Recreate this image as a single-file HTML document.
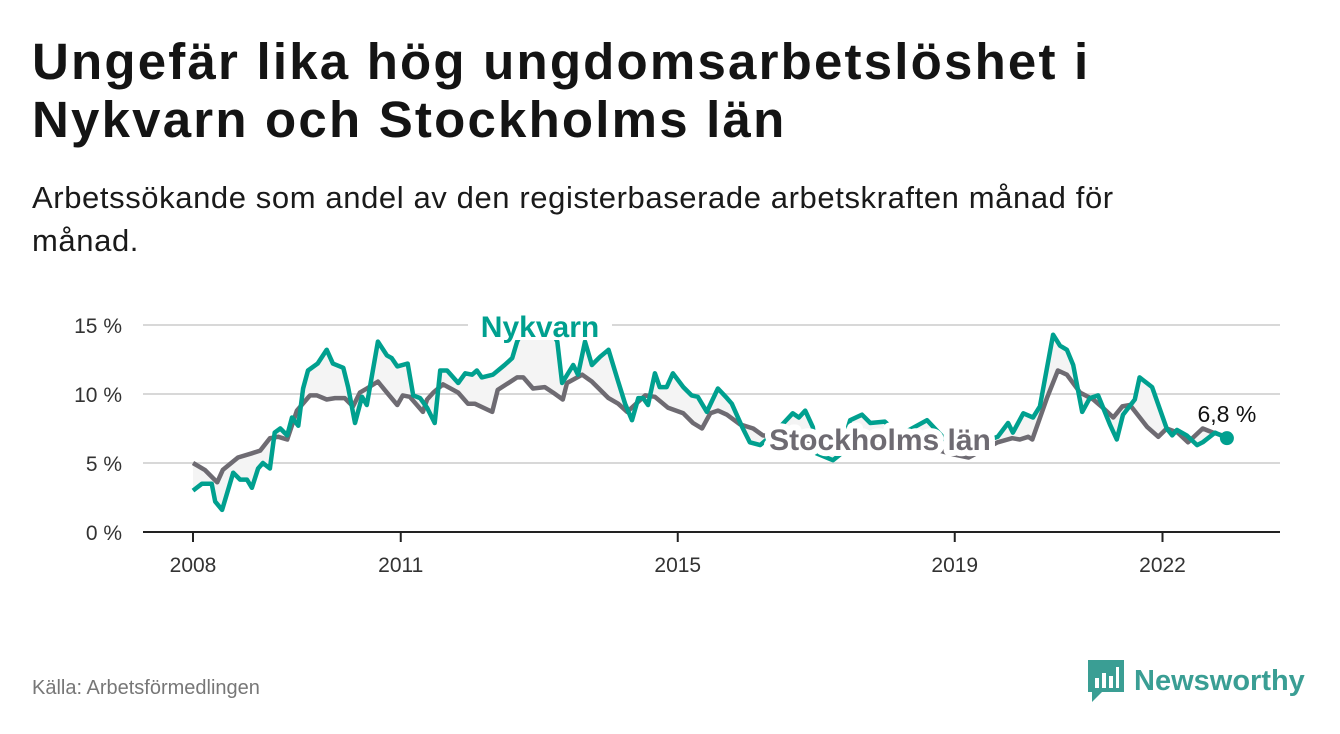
<!DOCTYPE html>
<html><head><meta charset="utf-8">
<style>
body{margin:0;width:1340px;height:734px;background:#fff;font-family:"Liberation Sans",sans-serif;overflow:hidden;position:relative}
h1{position:absolute;left:32px;top:33px;margin:0;font-size:51px;line-height:58px;font-weight:bold;color:#141414;letter-spacing:2.2px}
.sub{position:absolute;left:32px;top:176px;margin:0;font-size:31px;line-height:43px;color:#1a1a1a;width:1150px;letter-spacing:0.6px}
.src{position:absolute;left:32px;top:677px;font-size:20px;color:#777}
.logo{position:absolute;left:1088px;top:660px;display:flex;align-items:center}
.logo span{font-size:29px;font-weight:bold;color:#3a9e94;margin-left:10px}
</style></head><body>
<h1>Ungefär lika hög ungdomsarbetslöshet i<br>Nykvarn och Stockholms län</h1>
<p class="sub">Arbetssökande som andel av den registerbaserade arbetskraften månad för månad.</p>
<svg id="chart" width="1340" height="734" style="position:absolute;left:0;top:0"></svg>
<div class="src">Källa: Arbetsförmedlingen</div>
<div class="logo">
<svg width="36" height="42" viewBox="0 0 36 42"><path d="M0 0H36V32H14L4 42V32H0Z" fill="#3a9e94"/><rect x="7" y="18" width="4" height="10" fill="#fff"/><rect x="14" y="13" width="4" height="15" fill="#fff"/><rect x="21" y="16" width="4" height="12" fill="#fff"/><rect x="28" y="7" width="3" height="21" fill="#fff"/></svg>
<span>Newsworthy</span></div>
<script>
const yTicks=[0,5,10,15];
const yTickLabels=["0 %","5 %","10 %","15 %"];
const xTicks=[2008,2011,2015,2019,2022];
const nykDates=[2008.0,2008.13,2008.27,2008.32,2008.42,2008.58,2008.68,2008.78,2008.85,2008.94,2009.01,2009.11,2009.18,2009.26,2009.36,2009.43,2009.52,2009.59,2009.66,2009.8,2009.93,2010.02,2010.17,2010.24,2010.34,2010.44,2010.51,2010.67,2010.8,2010.87,2010.95,2011.1,2011.18,2011.28,2011.38,2011.49,2011.57,2011.67,2011.83,2011.93,2012.03,2012.1,2012.17,2012.33,2012.5,2012.61,2012.68,2012.85,2013.1,2013.26,2013.33,2013.49,2013.56,2013.66,2013.76,2013.88,2014.0,2014.14,2014.24,2014.34,2014.43,2014.5,2014.57,2014.67,2014.74,2014.84,2014.93,2015.08,2015.2,2015.29,2015.42,2015.58,2015.71,2015.78,2015.93,2016.04,2016.19,2016.4,2016.66,2016.75,2016.84,2016.95,2017.0,2017.24,2017.34,2017.49,2017.66,2017.78,2017.99,2018.2,2018.6,2018.9,2019.2,2019.4,2019.62,2019.77,2019.84,2019.99,2020.13,2020.23,2020.42,2020.52,2020.62,2020.71,2020.84,2020.95,2021.07,2021.24,2021.34,2021.43,2021.6,2021.67,2021.85,2022.06,2022.14,2022.21,2022.35,2022.5,2022.58,2022.76,2022.93];
const nykVals=[3.0,3.5,3.5,2.2,1.6,4.3,3.8,3.8,3.2,4.6,5.0,4.6,7.2,7.5,7.0,8.3,7.7,10.4,11.7,12.2,13.2,12.2,11.9,10.5,7.9,9.8,9.2,13.8,12.8,12.6,12.0,12.2,9.9,9.7,9.0,7.9,11.7,11.7,10.8,11.5,11.4,11.7,11.2,11.4,12.1,12.6,13.8,15.5,15.3,13.8,10.8,12.1,11.4,13.8,12.1,12.7,13.2,10.9,9.3,8.1,9.7,9.7,9.2,11.5,10.5,10.5,11.5,10.5,9.9,9.8,8.7,10.4,9.7,9.3,7.6,6.5,6.3,7.2,8.6,8.3,8.8,7.6,5.7,5.2,5.6,8.1,8.5,7.9,8.0,7.0,8.1,6.5,6.0,6.5,6.9,7.9,7.2,8.6,8.3,9.1,14.3,13.5,13.2,12.1,8.7,9.7,9.9,7.8,6.7,8.5,9.6,11.2,10.5,7.5,7.0,7.4,7.0,6.3,6.5,7.2,6.8];
const stoDates=[2008.0,2008.17,2008.35,2008.43,2008.65,2008.85,2008.97,2009.11,2009.23,2009.36,2009.5,2009.69,2009.79,2009.93,2010.05,2010.19,2010.31,2010.41,2010.51,2010.67,2010.8,2010.95,2011.03,2011.13,2011.32,2011.38,2011.47,2011.61,2011.83,2011.97,2012.07,2012.32,2012.4,2012.68,2012.77,2012.91,2013.08,2013.2,2013.34,2013.4,2013.62,2013.76,2014.0,2014.14,2014.27,2014.53,2014.67,2014.86,2015.08,2015.22,2015.35,2015.47,2015.58,2015.71,2015.9,2016.09,2016.23,2016.6,2017.2,2018.0,2018.7,2019.0,2019.2,2019.62,2019.83,2019.94,2020.06,2020.12,2020.33,2020.49,2020.62,2020.81,2021.0,2021.14,2021.29,2021.42,2021.53,2021.78,2021.94,2022.06,2022.22,2022.37,2022.58,2022.73,2022.93];
const stoVals=[5.0,4.5,3.6,4.5,5.4,5.7,5.9,6.8,6.9,6.7,8.8,9.9,9.9,9.6,9.7,9.7,9.1,10.1,10.4,10.9,10.1,9.2,9.9,9.8,8.7,9.6,10.1,10.7,10.1,9.3,9.3,8.7,10.3,11.2,11.2,10.4,10.5,10.1,9.6,10.8,11.4,10.9,9.7,9.3,8.7,9.9,9.8,9.0,8.6,7.9,7.5,8.6,8.8,8.5,7.8,7.5,7.0,6.8,6.4,6.2,6.0,5.6,5.4,6.5,6.8,6.7,6.9,6.7,9.7,11.7,11.4,10.1,9.6,9.0,8.3,9.1,9.2,7.6,6.9,7.5,7.2,6.5,7.5,7.2,6.9];
const NS="http://www.w3.org/2000/svg";
const svg=document.getElementById('chart');
const X0=143,X1=1280,Y0=532;
const xs=v=>193+(v-2008)*69.25;
const ys=v=>Y0-v*13.8;
function mk(t,a){const e=document.createElementNS(NS,t);for(const k in a)e.setAttribute(k,a[k]);svg.appendChild(e);return e;}
yTicks.forEach((t,i)=>{
 const l=mk('line',{x1:X0,x2:X1,y1:ys(t),y2:ys(t),stroke:t===0?'#222':'#d8d8d8','stroke-width':2});
 
 
 const tx=mk('text',{x:122,y:ys(t)+8,'text-anchor':'end','font-size':21,fill:'#333'});
 tx.textContent=yTickLabels[i];
 
 
});
xTicks.forEach(t=>{
 const l=mk('line',{x1:xs(t),x2:xs(t),y1:Y0,y2:Y0+10,stroke:'#222','stroke-width':2});
 
 
 const tx=mk('text',{x:xs(t),y:Y0+40,'text-anchor':'middle','font-size':21,fill:'#333'});
 tx.textContent=t;
 
 
});
let fp='';
nykDates.forEach((d,i)=>{fp+=(i?'L':'M')+xs(d)+','+ys(nykVals[i]);});
for(let i=stoDates.length-1;i>=0;i--)fp+='L'+xs(stoDates[i])+','+ys(stoVals[i]);
const ar=mk('path',{d:fp+'Z',fill:'#f4f4f4'});


function line(ds,vs,c,name){let p='';ds.forEach((d,i)=>{p+=(i?'L':'M')+xs(d).toFixed(1)+','+ys(vs[i]).toFixed(1);});
 const e=mk('path',{d:p,fill:'none',stroke:c,'stroke-width':4.5,'stroke-linejoin':'round'});
 
 }
line(stoDates,stoVals,'#6e6b72','stockholm-line');
line(nykDates,nykVals,'#00a08f','nykvarn-line');
const lx=nykDates[nykDates.length-1],lv=nykVals[nykVals.length-1];
const dot=mk('circle',{cx:xs(lx),cy:ys(lv),r:7,fill:'#00a08f'});


const vl=mk('text',{x:xs(lx),y:ys(lv)-16,'text-anchor':'middle','font-size':23,fill:'#111','paint-order':'stroke',stroke:'#fff','stroke-width':5});
vl.textContent=String(lv).replace('.',',')+' %';


const nb=mk('rect',{x:468,y:310,width:144,height:30,fill:'#fff'});


const nl=mk('text',{x:540,y:337,'text-anchor':'middle','font-size':30,'font-weight':'bold',fill:'#00a08f'});
nl.textContent='Nykvarn';


const sl=mk('text',{x:880,y:450,'text-anchor':'middle','font-size':30,'font-weight':'bold',fill:'#6e6b72','paint-order':'stroke',stroke:'#fff','stroke-width':12,'stroke-linejoin':'round'});
sl.textContent='Stockholms län';


</script>
</body></html>
